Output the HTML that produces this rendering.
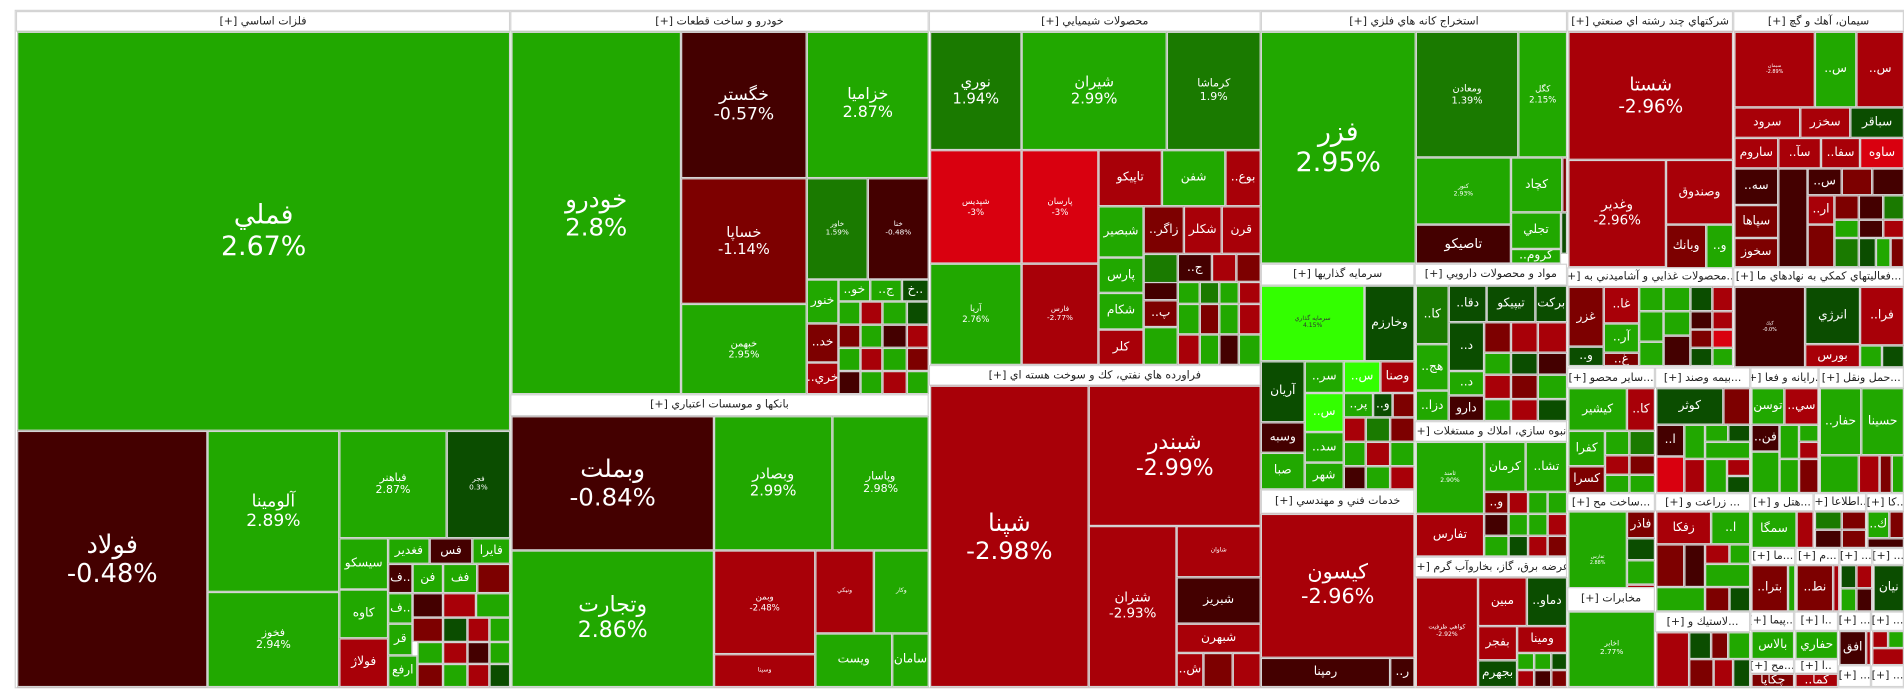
<!DOCTYPE html>
<html><head><meta charset="utf-8">
<style>
html,body{margin:0;padding:0;background:#fff;width:1904px;height:698px;overflow:hidden}
#w{position:absolute;left:0;top:0;width:1560px;height:572px;transform:scale(1.2205);transform-origin:0 0;font-family:"DejaVu Sans","Liberation Sans",sans-serif}
.c{position:absolute;box-sizing:border-box;border:1px solid #d4d4d4;display:flex;align-items:center;justify-content:center;text-align:center;color:#fff;line-height:1.15;overflow:hidden;font-size:10px}
.h{position:absolute;box-sizing:border-box;background:#fff;border:1px solid #d4d4d4;color:#222;font-size:9px;display:flex;align-items:center;justify-content:center;white-space:nowrap;overflow:hidden;direction:rtl}
.g{background:#21a800}.dg{background:#1a7a00}.vg{background:#0b4d00}.dr{background:#440000}.r7{background:#7d0000}.r{background:#a80008}.rr{background:#d9000f}.lg{background:#33ff00}.w{background:#fff}
</style></head><body><div id="w">
<div style="position:absolute;left:12px;top:8px;width:1549px;height:556px;border:1px solid #d4d4d4;box-sizing:border-box"></div>

<!-- فلزات اساسي -->
<div class="h" style="left:13px;top:9px;width:405px;height:17px">فلزات اساسي [+]</div>
<div class="c g" style="left:14px;top:26px;width:404px;height:327px;font-size:22px">فملي<br>2.67%</div>
<div class="c dr" style="left:14px;top:353px;width:156px;height:210px;font-size:21px">فولاد<br>-0.48%</div>
<div class="c g" style="left:170px;top:353px;width:108px;height:132px;font-size:14px">آلومينا<br>2.89%</div>
<div class="c g" style="left:170px;top:485px;width:108px;height:78px;font-size:9px">فخوز<br>2.94%</div>
<div class="c g" style="left:278px;top:353px;width:88px;height:88px;font-size:9px">فباهنر<br>2.87%</div>
<div class="c vg" style="left:366px;top:353px;width:52px;height:88px;font-size:6px">فجر<br>0.3%</div>
<div class="c g" style="left:278px;top:441px;width:40px;height:42px">سيسكو</div>
<div class="c g" style="left:318px;top:441px;width:34px;height:21px">فغدير</div>
<div class="c dr" style="left:352px;top:441px;width:35px;height:21px">فس</div>
<div class="c g" style="left:387px;top:441px;width:31px;height:21px">فايرا</div>
<div class="c g" style="left:278px;top:483px;width:40px;height:40px">كاوه</div>
<div class="c r" style="left:278px;top:523px;width:40px;height:40px">فولاژ</div>
<div class="c dr" style="left:318px;top:462px;width:20px;height:24px">ف..</div>
<div class="c g" style="left:338px;top:462px;width:25px;height:24px">فن</div>
<div class="c g" style="left:363px;top:462px;width:28px;height:24px">فف</div>
<div class="c r7" style="left:391px;top:462px;width:27px;height:24px"></div>
<div class="c g" style="left:318px;top:486px;width:20px;height:25px">ف..</div>
<div class="c g" style="left:318px;top:511px;width:20px;height:26px">قر</div>
<div class="c g" style="left:318px;top:537px;width:24px;height:26px">ارفع</div>
<div class="c dr" style="left:338px;top:486px;width:25px;height:20px"></div>
<div class="c r" style="left:363px;top:486px;width:27px;height:20px"></div>
<div class="c g" style="left:390px;top:486px;width:28px;height:20px"></div>
<div class="c r7" style="left:338px;top:506px;width:25px;height:20px"></div>
<div class="c vg" style="left:363px;top:506px;width:20px;height:20px"></div>
<div class="c r" style="left:383px;top:506px;width:18px;height:20px"></div>
<div class="c g" style="left:401px;top:506px;width:17px;height:20px"></div>
<div class="c g" style="left:342px;top:526px;width:21px;height:18px"></div>
<div class="c r" style="left:363px;top:526px;width:20px;height:18px"></div>
<div class="c dr" style="left:383px;top:526px;width:18px;height:18px"></div>
<div class="c g" style="left:401px;top:526px;width:17px;height:18px"></div>
<div class="c r7" style="left:342px;top:544px;width:21px;height:19px"></div>
<div class="c g" style="left:363px;top:544px;width:20px;height:19px"></div>
<div class="c r" style="left:383px;top:544px;width:18px;height:19px"></div>
<div class="c vg" style="left:401px;top:544px;width:17px;height:19px"></div>

<!-- خودرو -->
<div class="h" style="left:418px;top:9px;width:343px;height:17px">خودرو و ساخت قطعات [+]</div>
<div class="c g" style="left:419px;top:26px;width:139px;height:297px;font-size:20px">خودرو<br>2.8%</div>
<div class="c dr" style="left:558px;top:26px;width:103px;height:120px;font-size:14px">خگستر<br>-0.57%</div>
<div class="c r7" style="left:558px;top:146px;width:103px;height:103px;font-size:12px">خساپا<br>-1.14%</div>
<div class="c g" style="left:558px;top:249px;width:103px;height:74px;font-size:8px">خبهمن<br>2.95%</div>
<div class="c g" style="left:661px;top:26px;width:100px;height:120px;font-size:13px">خزاميا<br>2.87%</div>
<div class="c dg" style="left:661px;top:146px;width:50px;height:83px;font-size:6px">خاور<br>1.59%</div>
<div class="c dr" style="left:711px;top:146px;width:50px;height:83px;font-size:6px">خنا<br>-0.48%</div>
<div class="c g" style="left:661px;top:229px;width:26px;height:36px">خنور</div>
<div class="c g" style="left:687px;top:229px;width:26px;height:18px">..خو</div>
<div class="c g" style="left:713px;top:229px;width:26px;height:18px">..ج</div>
<div class="c vg" style="left:739px;top:229px;width:22px;height:18px">خ..</div>
<div class="c r7" style="left:661px;top:265px;width:26px;height:32px">..خد</div>
<div class="c r" style="left:661px;top:297px;width:26px;height:26px">..خري</div>
<div class="c g" style="left:687px;top:247px;width:18px;height:19px"></div>
<div class="c r" style="left:705px;top:247px;width:18px;height:19px"></div>
<div class="c g" style="left:723px;top:247px;width:20px;height:19px"></div>
<div class="c vg" style="left:743px;top:247px;width:18px;height:19px"></div>
<div class="c r7" style="left:687px;top:266px;width:18px;height:19px"></div>
<div class="c g" style="left:705px;top:266px;width:18px;height:19px"></div>
<div class="c dr" style="left:723px;top:266px;width:20px;height:19px"></div>
<div class="c r" style="left:743px;top:266px;width:18px;height:19px"></div>
<div class="c g" style="left:687px;top:285px;width:18px;height:19px"></div>
<div class="c r" style="left:705px;top:285px;width:18px;height:19px"></div>
<div class="c g" style="left:723px;top:285px;width:20px;height:19px"></div>
<div class="c r7" style="left:743px;top:285px;width:18px;height:19px"></div>
<div class="c dr" style="left:687px;top:304px;width:18px;height:19px"></div>
<div class="c g" style="left:705px;top:304px;width:18px;height:19px"></div>
<div class="c r" style="left:723px;top:304px;width:20px;height:19px"></div>
<div class="c g" style="left:743px;top:304px;width:18px;height:19px"></div>

<!-- بانكها -->
<div class="h" style="left:418px;top:323px;width:343px;height:18px">بانكها و موسسات اعتباري [+]</div>
<div class="c dr" style="left:419px;top:341px;width:166px;height:110px;font-size:20px">وبملت<br>-0.84%</div>
<div class="c g" style="left:419px;top:451px;width:166px;height:112px;font-size:18px">وتجارت<br>2.86%</div>
<div class="c g" style="left:585px;top:341px;width:97px;height:110px;font-size:12px">وبصادر<br>2.99%</div>
<div class="c g" style="left:682px;top:341px;width:79px;height:110px;font-size:9px">وپاسار<br>2.98%</div>
<div class="c r" style="left:585px;top:451px;width:83px;height:85px;font-size:7px">وبمن<br>-2.48%</div>
<div class="c r" style="left:668px;top:451px;width:48px;height:68px;font-size:5px">ونيكي</div>
<div class="c g" style="left:716px;top:451px;width:45px;height:68px;font-size:5px">وكار</div>
<div class="c r" style="left:585px;top:536px;width:83px;height:27px;font-size:5px">وسينا</div>
<div class="c g" style="left:668px;top:519px;width:63px;height:44px">ويست</div>
<div class="c g" style="left:731px;top:519px;width:30px;height:44px">سامان</div>

<!-- شيميايي -->
<div class="h" style="left:761px;top:9px;width:272px;height:17px">محصولات شيميايي [+]</div>
<div class="c dg" style="left:762px;top:26px;width:75px;height:97px;font-size:12px">نوري<br>1.94%</div>
<div class="c g" style="left:837px;top:26px;width:119px;height:97px;font-size:12px">شيران<br>2.99%</div>
<div class="c dg" style="left:956px;top:26px;width:77px;height:97px;font-size:9px">كرماشا<br>1.9%</div>
<div class="c rr" style="left:762px;top:123px;width:75px;height:93px;font-size:7px">شپديس<br>-3%</div>
<div class="c rr" style="left:837px;top:123px;width:63px;height:93px;font-size:7px">پارسان<br>-3%</div>
<div class="c g" style="left:762px;top:216px;width:75px;height:83px;font-size:7px">آريا<br>2.76%</div>
<div class="c r" style="left:837px;top:216px;width:63px;height:83px;font-size:6px">فارس<br>-2.77%</div>
<div class="c r" style="left:900px;top:123px;width:52px;height:46px">تاپيكو</div>
<div class="c g" style="left:952px;top:123px;width:52px;height:46px">شفن</div>
<div class="c r" style="left:1004px;top:123px;width:29px;height:46px">..بوع</div>
<div class="c g" style="left:900px;top:169px;width:37px;height:42px">شبصير</div>
<div class="c r7" style="left:937px;top:169px;width:33px;height:39px">..زاگر</div>
<div class="c r" style="left:970px;top:169px;width:31px;height:39px">شكلر</div>
<div class="c r" style="left:1001px;top:169px;width:32px;height:39px">قرن</div>
<div class="c g" style="left:900px;top:211px;width:37px;height:29px">پارس</div>
<div class="c g" style="left:900px;top:240px;width:37px;height:30px">شكام</div>
<div class="c r" style="left:900px;top:270px;width:37px;height:29px">كلر</div>
<div class="c dg" style="left:937px;top:208px;width:28px;height:38px"></div>
<div class="c dr" style="left:965px;top:208px;width:28px;height:23px">..ج</div>
<div class="c r" style="left:993px;top:208px;width:20px;height:23px"></div>
<div class="c r7" style="left:1013px;top:208px;width:20px;height:23px"></div>
<div class="c r7" style="left:937px;top:246px;width:28px;height:22px">..پ</div>
<div class="c dr" style="left:937px;top:231px;width:28px;height:15px"></div>
<div class="c g" style="left:937px;top:268px;width:28px;height:31px"></div>
<div class="c g" style="left:965px;top:231px;width:18px;height:18px"></div>
<div class="c dg" style="left:983px;top:231px;width:16px;height:18px"></div>
<div class="c g" style="left:999px;top:231px;width:16px;height:18px"></div>
<div class="c r" style="left:1015px;top:231px;width:18px;height:18px"></div>
<div class="c g" style="left:965px;top:249px;width:18px;height:25px"></div>
<div class="c r7" style="left:983px;top:249px;width:16px;height:25px"></div>
<div class="c g" style="left:999px;top:249px;width:16px;height:25px"></div>
<div class="c r" style="left:1015px;top:249px;width:18px;height:25px"></div>
<div class="c r" style="left:965px;top:274px;width:18px;height:25px"></div>
<div class="c g" style="left:983px;top:274px;width:16px;height:25px"></div>
<div class="c dr" style="left:999px;top:274px;width:16px;height:25px"></div>
<div class="c g" style="left:1015px;top:274px;width:18px;height:25px"></div>

<!-- فراورده -->
<div class="h" style="left:761px;top:299px;width:272px;height:17px">فراورده هاي نفتي، كك و سوخت هسته اي [+]</div>
<div class="c r" style="left:762px;top:316px;width:130px;height:247px;font-size:20px">شپنا<br>-2.98%</div>
<div class="c r" style="left:892px;top:316px;width:141px;height:115px;font-size:18px">شبندر<br>-2.99%</div>
<div class="c r" style="left:892px;top:431px;width:72px;height:132px;font-size:11px">شتران<br>-2.93%</div>
<div class="c r" style="left:964px;top:431px;width:69px;height:42px;font-size:5px">شاوان</div>
<div class="c dr" style="left:964px;top:473px;width:69px;height:38px">شبريز</div>
<div class="c r" style="left:964px;top:511px;width:69px;height:24px">شبهرن</div>
<div class="c r" style="left:964px;top:535px;width:22px;height:28px">..ش</div>
<div class="c r7" style="left:986px;top:535px;width:24px;height:28px"></div>
<div class="c r" style="left:1010px;top:535px;width:23px;height:28px"></div>

<!-- استخراج -->
<div class="h" style="left:1033px;top:9px;width:251px;height:17px">استخراج كانه هاي فلزي [+]</div>
<div class="c g" style="left:1033px;top:26px;width:127px;height:190px;font-size:22px">فزر<br>2.95%</div>
<div class="c dg" style="left:1160px;top:26px;width:84px;height:103px;font-size:8px">ومعادن<br>1.39%</div>
<div class="c g" style="left:1244px;top:26px;width:40px;height:103px;font-size:7px">كگل<br>2.15%</div>
<div class="c g" style="left:1160px;top:129px;width:78px;height:55px;font-size:5px">كنور<br>2.93%</div>
<div class="c dr" style="left:1160px;top:184px;width:78px;height:32px" ><span class="" style="font-size:11px">تاصيكو</span></div>
<div class="c g" style="left:1238px;top:129px;width:42px;height:45px">كچاد</div>
<div class="c g" style="left:1238px;top:174px;width:41px;height:30px">تجلي</div>
<div class="c g" style="left:1238px;top:204px;width:41px;height:12px">..كروم</div>
<div class="c r7" style="left:1280px;top:129px;width:4px;height:45px"></div>
<div class="c vg" style="left:1279px;top:174px;width:5px;height:34px"></div>

<!-- سرمايه گذاريها -->
<div class="h" style="left:1033px;top:216px;width:126px;height:18px">سرمايه گذاريها [+]</div>
<div class="c lg" style="left:1033px;top:234px;width:85px;height:62px;font-size:5px;color:#333">سرمايه گذاري<br>4.15%</div>
<div class="c vg" style="left:1118px;top:234px;width:41px;height:62px">وخارزم</div>
<div class="c vg" style="left:1033px;top:296px;width:36px;height:50px">آريان</div>
<div class="c dr" style="left:1033px;top:346px;width:36px;height:25px">وسبه</div>
<div class="c g" style="left:1033px;top:371px;width:36px;height:30px">صبا</div>
<div class="c g" style="left:1069px;top:296px;width:32px;height:26px">..سر</div>
<div class="c lg" style="left:1101px;top:296px;width:30px;height:26px">..س</div>
<div class="c r" style="left:1131px;top:296px;width:28px;height:26px">وصنا</div>
<div class="c lg" style="left:1069px;top:322px;width:32px;height:32px">..س</div>
<div class="c g" style="left:1101px;top:322px;width:24px;height:20px">..پر</div>
<div class="c vg" style="left:1125px;top:322px;width:16px;height:20px">..و</div>
<div class="c r7" style="left:1141px;top:322px;width:18px;height:20px"></div>
<div class="c g" style="left:1069px;top:354px;width:32px;height:25px">..سد</div>
<div class="c g" style="left:1069px;top:379px;width:32px;height:22px">شهر</div>
<div class="c r" style="left:1101px;top:342px;width:18px;height:20px"></div>
<div class="c dg" style="left:1119px;top:342px;width:20px;height:20px"></div>
<div class="c r7" style="left:1139px;top:342px;width:20px;height:20px"></div>
<div class="c g" style="left:1101px;top:362px;width:18px;height:20px"></div>
<div class="c r" style="left:1119px;top:362px;width:20px;height:20px"></div>
<div class="c g" style="left:1139px;top:362px;width:20px;height:20px"></div>
<div class="c dr" style="left:1101px;top:382px;width:18px;height:19px"></div>
<div class="c g" style="left:1119px;top:382px;width:20px;height:19px"></div>
<div class="c r" style="left:1139px;top:382px;width:20px;height:19px"></div>

<!-- خدمات فني -->
<div class="h" style="left:1033px;top:401px;width:126px;height:20px">خدمات فني و مهندسي [+]</div>
<div class="c r" style="left:1033px;top:421px;width:126px;height:118px;font-size:17px">كيسون<br>-2.96%</div>
<div class="c dr" style="left:1033px;top:539px;width:106px;height:24px">رمپنا</div>
<div class="c dr" style="left:1139px;top:539px;width:20px;height:24px">..ر</div>

<!-- دارويي -->
<div class="h" style="left:1159px;top:216px;width:125px;height:18px">مواد و محصولات دارويي [+]</div>
<div class="c dg" style="left:1160px;top:234px;width:27px;height:48px">..كا</div>
<div class="c vg" style="left:1187px;top:234px;width:31px;height:30px">..دقا</div>
<div class="c vg" style="left:1218px;top:234px;width:40px;height:30px">تيپيكو</div>
<div class="c vg" style="left:1258px;top:234px;width:26px;height:30px">بركت</div>
<div class="c g" style="left:1160px;top:282px;width:27px;height:38px">..هج</div>
<div class="c g" style="left:1160px;top:320px;width:27px;height:25px">..دزا</div>
<div class="c vg" style="left:1187px;top:264px;width:29px;height:40px">..د</div>
<div class="c g" style="left:1187px;top:304px;width:29px;height:20px">..د</div>
<div class="c dr" style="left:1187px;top:324px;width:29px;height:21px">دارو</div>
<div class="c r7" style="left:1216px;top:264px;width:22px;height:25px"></div>
<div class="c r" style="left:1238px;top:264px;width:22px;height:25px"></div>
<div class="c r" style="left:1260px;top:264px;width:24px;height:25px"></div>
<div class="c g" style="left:1216px;top:289px;width:22px;height:18px"></div>
<div class="c vg" style="left:1238px;top:289px;width:22px;height:18px"></div>
<div class="c dr" style="left:1260px;top:289px;width:24px;height:18px"></div>
<div class="c r" style="left:1216px;top:307px;width:22px;height:20px"></div>
<div class="c r7" style="left:1238px;top:307px;width:22px;height:20px"></div>
<div class="c g" style="left:1260px;top:307px;width:24px;height:20px"></div>
<div class="c g" style="left:1216px;top:327px;width:22px;height:18px"></div>
<div class="c r" style="left:1238px;top:327px;width:22px;height:18px"></div>
<div class="c vg" style="left:1260px;top:327px;width:24px;height:18px"></div>

<!-- انبوه سازي -->
<div class="h" style="left:1159px;top:345px;width:125px;height:17px">انبوه سازي، املاك و مستغلات [+]</div>
<div class="c g" style="left:1160px;top:362px;width:56px;height:59px;font-size:5px">ثامند<br>2.90%</div>
<div class="c r" style="left:1160px;top:421px;width:56px;height:35px">تفارس</div>
<div class="c g" style="left:1216px;top:362px;width:34px;height:41px">كرمان</div>
<div class="c g" style="left:1250px;top:362px;width:34px;height:41px">..تشا</div>
<div class="c r7" style="left:1216px;top:403px;width:20px;height:18px">..و</div>
<div class="c r" style="left:1236px;top:403px;width:16px;height:18px"></div>
<div class="c g" style="left:1252px;top:403px;width:16px;height:18px"></div>
<div class="c g" style="left:1268px;top:403px;width:16px;height:18px"></div>
<div class="c dr" style="left:1216px;top:421px;width:20px;height:18px"></div>
<div class="c g" style="left:1236px;top:421px;width:16px;height:18px"></div>
<div class="c g" style="left:1252px;top:421px;width:16px;height:18px"></div>
<div class="c r" style="left:1268px;top:421px;width:16px;height:18px"></div>
<div class="c g" style="left:1216px;top:439px;width:20px;height:17px"></div>
<div class="c vg" style="left:1236px;top:439px;width:16px;height:17px"></div>
<div class="c r" style="left:1252px;top:439px;width:16px;height:17px"></div>
<div class="c r7" style="left:1268px;top:439px;width:16px;height:17px"></div>

<!-- عرضه برق -->
<div class="h" style="left:1159px;top:456px;width:125px;height:17px">عرضه برق، گاز، بخاروآب گرم [+]</div>
<div class="c r" style="left:1160px;top:473px;width:51px;height:90px;font-size:5px">كواهي ظرفيت<br>-2.92%</div>
<div class="c r" style="left:1211px;top:473px;width:40px;height:40px">مبين</div>
<div class="c vg" style="left:1251px;top:473px;width:33px;height:40px">..دماو</div>
<div class="c r" style="left:1211px;top:513px;width:32px;height:28px">بفجر</div>
<div class="c r" style="left:1243px;top:513px;width:41px;height:22px">ومينا</div>
<div class="c vg" style="left:1211px;top:541px;width:32px;height:22px">بجهرم</div>
<div class="c g" style="left:1243px;top:535px;width:14px;height:14px"></div>
<div class="c g" style="left:1257px;top:535px;width:14px;height:14px"></div>
<div class="c vg" style="left:1271px;top:535px;width:13px;height:14px"></div>
<div class="c r" style="left:1243px;top:549px;width:14px;height:14px"></div>
<div class="c dr" style="left:1257px;top:549px;width:14px;height:14px"></div>
<div class="c r7" style="left:1271px;top:549px;width:13px;height:14px"></div>

<!-- چند رشته -->
<div class="h" style="left:1284px;top:9px;width:136px;height:17px">شركتهاي چند رشته اي صنعتي [+]</div>
<div class="c r" style="left:1285px;top:26px;width:135px;height:105px;font-size:15px">شستا<br>-2.96%</div>
<div class="c r" style="left:1285px;top:131px;width:80px;height:88px;font-size:11px">وغدير<br>-2.96%</div>
<div class="c r" style="left:1365px;top:131px;width:55px;height:53px">وصندوق</div>
<div class="c r7" style="left:1365px;top:184px;width:33px;height:36px">وبانك</div>
<div class="c g" style="left:1398px;top:184px;width:22px;height:36px">..و</div>

<!-- سيمان -->
<div class="h" style="left:1420px;top:9px;width:140px;height:17px">سيمان، آهك و گچ [+]</div>
<div class="c r" style="left:1421px;top:26px;width:66px;height:62px;font-size:4px">سيمان<br>-2.89%</div>
<div class="c g" style="left:1487px;top:26px;width:34px;height:62px">..س</div>
<div class="c r" style="left:1521px;top:26px;width:39px;height:62px">..س</div>
<div class="c r" style="left:1421px;top:88px;width:54px;height:25px">سرود</div>
<div class="c r" style="left:1475px;top:88px;width:41px;height:25px">سخزر</div>
<div class="c vg" style="left:1516px;top:88px;width:44px;height:25px">سباقر</div>
<div class="c r" style="left:1421px;top:113px;width:36px;height:25px">ساروم</div>
<div class="c r" style="left:1457px;top:113px;width:35px;height:25px">..سآ</div>
<div class="c r" style="left:1492px;top:113px;width:32px;height:25px">..سفا</div>
<div class="c rr" style="left:1524px;top:113px;width:36px;height:25px">ساوه</div>
<div class="c dr" style="left:1421px;top:138px;width:36px;height:30px">..سه</div>
<div class="c r7" style="left:1421px;top:168px;width:36px;height:27px">سپاها</div>
<div class="c r7" style="left:1421px;top:195px;width:36px;height:24px">سخوز</div>
<div class="c dr" style="left:1457px;top:138px;width:24px;height:81px"></div>
<div class="c dr" style="left:1481px;top:138px;width:28px;height:22px">..س</div>
<div class="c r7" style="left:1509px;top:138px;width:25px;height:22px"></div>
<div class="c dr" style="left:1534px;top:138px;width:26px;height:22px"></div>
<div class="c r" style="left:1481px;top:160px;width:22px;height:24px">..ار</div>
<div class="c r7" style="left:1503px;top:160px;width:20px;height:20px"></div>
<div class="c dr" style="left:1523px;top:160px;width:20px;height:20px"></div>
<div class="c dg" style="left:1543px;top:160px;width:17px;height:20px"></div>
<div class="c g" style="left:1503px;top:180px;width:20px;height:15px"></div>
<div class="c dr" style="left:1523px;top:180px;width:20px;height:15px"></div>
<div class="c r" style="left:1543px;top:180px;width:17px;height:15px"></div>
<div class="c r7" style="left:1481px;top:184px;width:22px;height:35px"></div>
<div class="c dg" style="left:1503px;top:195px;width:20px;height:24px"></div>
<div class="c vg" style="left:1523px;top:195px;width:14px;height:24px"></div>
<div class="c g" style="left:1537px;top:195px;width:12px;height:24px"></div>
<div class="c r7" style="left:1549px;top:195px;width:11px;height:24px"></div>

<!-- غذايي -->
<div class="h" style="left:1284px;top:219px;width:136px;height:16px">...محصولات غذايي و آشاميدني به [+]</div>
<div class="c r7" style="left:1285px;top:235px;width:29px;height:49px">غزر</div>
<div class="c r" style="left:1314px;top:235px;width:29px;height:30px">..غا</div>
<div class="c g" style="left:1314px;top:265px;width:29px;height:24px">..آر</div>
<div class="c vg" style="left:1285px;top:284px;width:29px;height:16px">..و</div>
<div class="c r7" style="left:1314px;top:289px;width:29px;height:11px">..غ</div>
<div class="c g" style="left:1343px;top:235px;width:20px;height:20px"></div>
<div class="c g" style="left:1363px;top:235px;width:22px;height:20px"></div>
<div class="c vg" style="left:1385px;top:235px;width:18px;height:20px"></div>
<div class="c r" style="left:1403px;top:235px;width:17px;height:20px"></div>
<div class="c g" style="left:1343px;top:255px;width:20px;height:25px"></div>
<div class="c g" style="left:1363px;top:255px;width:22px;height:20px"></div>
<div class="c dr" style="left:1385px;top:255px;width:18px;height:15px"></div>
<div class="c r" style="left:1403px;top:255px;width:17px;height:15px"></div>
<div class="c dr" style="left:1363px;top:275px;width:22px;height:25px"></div>
<div class="c r7" style="left:1385px;top:270px;width:18px;height:15px"></div>
<div class="c rr" style="left:1403px;top:270px;width:17px;height:15px"></div>
<div class="c g" style="left:1343px;top:280px;width:20px;height:20px"></div>
<div class="c vg" style="left:1385px;top:285px;width:18px;height:15px"></div>
<div class="c g" style="left:1403px;top:285px;width:17px;height:15px"></div>

<!-- كمكي -->
<div class="h" style="left:1420px;top:219px;width:140px;height:16px">...فعاليتهاي كمكي به نهادهاي ما [+]</div>
<div class="c dr" style="left:1421px;top:235px;width:58px;height:66px;font-size:4px">كيك<br>-0.0%</div>
<div class="c vg" style="left:1479px;top:235px;width:45px;height:47px">انرژي</div>
<div class="c r" style="left:1524px;top:235px;width:36px;height:48px">..فرا</div>
<div class="c r" style="left:1479px;top:282px;width:45px;height:19px">بورس</div>
<div class="c g" style="left:1524px;top:283px;width:18px;height:18px"></div>
<div class="c vg" style="left:1542px;top:283px;width:18px;height:18px"></div>

<!-- small sectors row 1 -->
<div class="h" style="left:1284px;top:301px;width:72px;height:17px">...ساير محصو [+]</div>
<div class="c g" style="left:1285px;top:318px;width:48px;height:35px">كيشير</div>
<div class="c r" style="left:1333px;top:318px;width:23px;height:35px">..كا</div>
<div class="c g" style="left:1285px;top:353px;width:30px;height:29px">كفرا</div>
<div class="c r7" style="left:1285px;top:382px;width:30px;height:22px">كسرا</div>
<div class="c g" style="left:1315px;top:353px;width:20px;height:20px"></div>
<div class="c dg" style="left:1335px;top:353px;width:21px;height:20px"></div>
<div class="c r" style="left:1315px;top:373px;width:20px;height:16px"></div>
<div class="c r7" style="left:1335px;top:373px;width:21px;height:16px"></div>
<div class="c g" style="left:1315px;top:389px;width:20px;height:15px"></div>
<div class="c g" style="left:1335px;top:389px;width:21px;height:15px"></div>
<div class="h" style="left:1284px;top:404px;width:72px;height:15px">...ساخت مح [+]</div>
<div class="c g" style="left:1285px;top:419px;width:48px;height:80px;font-size:4px">ثفارس<br>2.88%</div>
<div class="c r7" style="left:1333px;top:419px;width:23px;height:22px">فاذر</div>
<div class="c vg" style="left:1333px;top:441px;width:23px;height:18px"></div>
<div class="c g" style="left:1333px;top:459px;width:23px;height:20px"></div>
<div class="c r" style="left:1333px;top:479px;width:23px;height:20px"></div>
<div class="h" style="left:1284px;top:481px;width:72px;height:20px">مخابرات [+]</div>
<div class="c g" style="left:1285px;top:501px;width:71px;height:62px;font-size:6px">اخابر<br>2.77%</div>

<div class="h" style="left:1356px;top:301px;width:78px;height:17px">...بيمه وصند [+]</div>
<div class="c vg" style="left:1357px;top:318px;width:55px;height:30px">كوثر</div>
<div class="c r7" style="left:1412px;top:318px;width:22px;height:30px"></div>
<div class="c dr" style="left:1357px;top:348px;width:23px;height:26px">..ا</div>
<div class="c rr" style="left:1357px;top:374px;width:23px;height:30px"></div>
<div class="c g" style="left:1380px;top:348px;width:17px;height:28px"></div>
<div class="c g" style="left:1397px;top:348px;width:19px;height:14px"></div>
<div class="c vg" style="left:1416px;top:348px;width:18px;height:14px"></div>
<div class="c g" style="left:1397px;top:362px;width:37px;height:14px"></div>
<div class="c r" style="left:1380px;top:376px;width:17px;height:28px"></div>
<div class="c g" style="left:1397px;top:376px;width:18px;height:28px"></div>
<div class="c r" style="left:1415px;top:376px;width:19px;height:14px"></div>
<div class="c vg" style="left:1415px;top:390px;width:19px;height:14px"></div>

<div class="h" style="left:1434px;top:301px;width:56px;height:17px">...رايانه و فعا [+]</div>
<div class="c g" style="left:1435px;top:318px;width:27px;height:30px">توسن</div>
<div class="c r" style="left:1462px;top:318px;width:28px;height:30px">..سي</div>
<div class="c dr" style="left:1435px;top:348px;width:23px;height:22px">..فن</div>
<div class="c g" style="left:1458px;top:348px;width:16px;height:28px"></div>
<div class="c g" style="left:1474px;top:348px;width:16px;height:14px"></div>
<div class="c r" style="left:1474px;top:362px;width:16px;height:14px"></div>
<div class="c g" style="left:1435px;top:370px;width:23px;height:34px"></div>
<div class="c g" style="left:1458px;top:376px;width:16px;height:28px"></div>
<div class="c r7" style="left:1474px;top:376px;width:16px;height:28px"></div>

<div class="h" style="left:1490px;top:301px;width:70px;height:17px">...حمل ونقل [+]</div>
<div class="c g" style="left:1491px;top:318px;width:34px;height:55px">..حفار</div>
<div class="c g" style="left:1525px;top:318px;width:35px;height:55px">حسينا</div>
<div class="c g" style="left:1491px;top:373px;width:32px;height:31px"></div>
<div class="c r" style="left:1523px;top:373px;width:17px;height:31px"></div>
<div class="c r7" style="left:1540px;top:373px;width:10px;height:31px"></div>
<div class="c g" style="left:1550px;top:373px;width:10px;height:31px"></div>

<!-- row 2 small -->
<div class="h" style="left:1356px;top:404px;width:78px;height:15px">... زراعت و [+]</div>
<div class="c r" style="left:1357px;top:419px;width:45px;height:27px">زفكا</div>
<div class="c g" style="left:1402px;top:419px;width:32px;height:27px">..ا</div>
<div class="c r7" style="left:1357px;top:446px;width:23px;height:35px"></div>
<div class="c dr" style="left:1380px;top:446px;width:17px;height:35px"></div>
<div class="c r" style="left:1397px;top:446px;width:20px;height:16px"></div>
<div class="c g" style="left:1417px;top:446px;width:17px;height:16px"></div>
<div class="c g" style="left:1397px;top:462px;width:37px;height:19px"></div>
<div class="c g" style="left:1357px;top:481px;width:40px;height:20px"></div>
<div class="c r7" style="left:1397px;top:481px;width:20px;height:20px"></div>
<div class="c vg" style="left:1417px;top:481px;width:17px;height:20px"></div>
<div class="h" style="left:1356px;top:501px;width:78px;height:17px">...لاستيك و [+]</div>
<div class="c r" style="left:1357px;top:518px;width:27px;height:45px"></div>
<div class="c vg" style="left:1384px;top:518px;width:18px;height:22px"></div>
<div class="c r7" style="left:1402px;top:518px;width:14px;height:22px"></div>
<div class="c g" style="left:1416px;top:518px;width:18px;height:22px"></div>
<div class="c r7" style="left:1384px;top:540px;width:20px;height:23px"></div>
<div class="c r" style="left:1404px;top:540px;width:16px;height:23px"></div>
<div class="c vg" style="left:1420px;top:540px;width:14px;height:23px"></div>

<div class="h" style="left:1434px;top:404px;width:52px;height:15px">...هتل و [+]</div>
<div class="c g" style="left:1435px;top:419px;width:37px;height:30px">سمگا</div>
<div class="c r" style="left:1472px;top:419px;width:14px;height:30px"></div>
<div class="h" style="left:1486px;top:404px;width:43px;height:15px">...اطلاعا [+]</div>
<div class="c dg" style="left:1487px;top:419px;width:22px;height:15px"></div>
<div class="c r7" style="left:1509px;top:419px;width:20px;height:15px"></div>
<div class="c dr" style="left:1487px;top:434px;width:22px;height:15px"></div>
<div class="c r7" style="left:1509px;top:434px;width:20px;height:15px"></div>
<div class="h" style="left:1529px;top:404px;width:31px;height:15px">..كا [+]</div>
<div class="c g" style="left:1530px;top:419px;width:18px;height:22px">..ك</div>
<div class="c r7" style="left:1548px;top:419px;width:12px;height:22px"></div>
<div class="c dr" style="left:1530px;top:441px;width:30px;height:8px"></div>

<div class="h" style="left:1434px;top:449px;width:37px;height:14px">...ما [+]</div>
<div class="c r7" style="left:1435px;top:463px;width:30px;height:38px">..بترا</div>
<div class="c g" style="left:1465px;top:463px;width:6px;height:38px"></div>
<div class="h" style="left:1471px;top:449px;width:36px;height:14px">...م [+]</div>
<div class="c r7" style="left:1472px;top:463px;width:30px;height:38px">..نط</div>
<div class="c r" style="left:1502px;top:463px;width:5px;height:38px"></div>
<div class="h" style="left:1507px;top:449px;width:27px;height:14px">... [+]</div>
<div class="c vg" style="left:1508px;top:463px;width:13px;height:19px"></div>
<div class="c r" style="left:1521px;top:463px;width:13px;height:19px"></div>
<div class="c g" style="left:1508px;top:482px;width:13px;height:19px"></div>
<div class="c dr" style="left:1521px;top:482px;width:13px;height:19px"></div>
<div class="h" style="left:1534px;top:449px;width:26px;height:14px">... [+]</div>
<div class="c vg" style="left:1535px;top:463px;width:25px;height:38px">نيان</div>

<div class="h" style="left:1434px;top:501px;width:36px;height:16px">...پيما [+]</div>
<div class="c g" style="left:1435px;top:517px;width:35px;height:23px">بالاس</div>
<div class="h" style="left:1434px;top:540px;width:36px;height:12px">...مح [+]</div>
<div class="c r7" style="left:1435px;top:552px;width:35px;height:11px">چكاپا</div>
<div class="h" style="left:1470px;top:501px;width:36px;height:16px">..ا [+]</div>
<div class="c g" style="left:1471px;top:517px;width:35px;height:23px">حفاري</div>
<div class="h" style="left:1470px;top:540px;width:36px;height:12px">..ا [+]</div>
<div class="c r" style="left:1471px;top:552px;width:35px;height:11px">..كما</div>
<div class="h" style="left:1506px;top:501px;width:27px;height:16px">... [+]</div>
<div class="c dr" style="left:1507px;top:517px;width:22px;height:28px">افق</div>
<div class="c r" style="left:1529px;top:517px;width:4px;height:28px"></div>
<div class="h" style="left:1533px;top:501px;width:27px;height:16px">... [+]</div>
<div class="c r" style="left:1534px;top:517px;width:13px;height:14px"></div>
<div class="c g" style="left:1547px;top:517px;width:13px;height:14px"></div>
<div class="c r" style="left:1534px;top:531px;width:26px;height:14px"></div>
<div class="h" style="left:1506px;top:545px;width:27px;height:18px">... [+]</div>
<div class="h" style="left:1533px;top:545px;width:27px;height:18px">... [+]</div>
</div></body></html>
